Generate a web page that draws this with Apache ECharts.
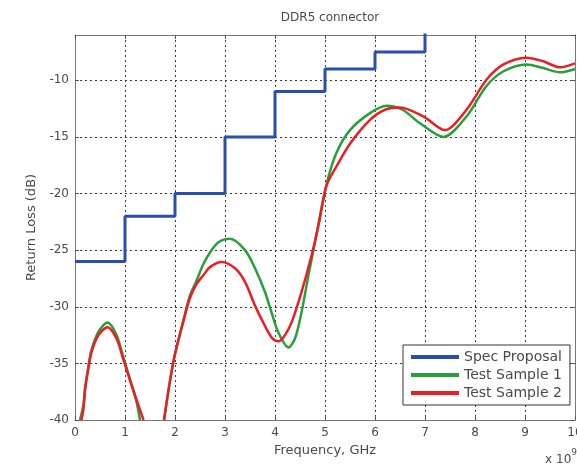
<!DOCTYPE html>
<html>
<head>
<meta charset="utf-8">
<title>DDR5 connector</title>
<script src="https://cdn.jsdelivr.net/npm/echarts@6/dist/echarts.min.js"></script>
<style>
  html, body { margin: 0; padding: 0; background: #ffffff; }
  #chart { width: 577px; height: 465px; }
</style>
</head>
<body>
<div id="chart"></div>
<script>
// Return loss of a DDR5 connector against the proposed spec limit.
// Frequencies are in units of 1e9 Hz (GHz), losses in dB.

const chartTitle = 'DDR5 connector';
const xAxisTitle = 'Frequency, GHz';
const yAxisTitle = 'Return Loss (dB)';
const seriesNames = ['Spec Proposal', 'Test Sample 1', 'Test Sample 2'];

// Spec limit: piecewise constant per 1 GHz band (step drawn at band edges)
const specFreq = [0, 1, 2, 3, 4, 5, 6, 7, 7];
const specLoss = [-26, -22, -20, -15, -11, -9, -7.5, -7.5, -4];

// Test sample 1 ('-' breaks the trace where it drops below the plotted range)
const sample1Freq = [0.10, 0.17, 0.20, 0.27, 0.33, 0.47, 0.65, 0.83, 0.97, 1.10, 1.23, 1.30,
  1.50,
  1.78, 1.97, 2.17, 2.30, 2.43, 2.57, 2.70, 2.87, 3.10, 3.40, 3.60, 3.80, 3.93, 4.07, 4.27, 4.40, 4.53, 4.67, 4.80,
  5.03, 5.23, 5.50, 5.90, 6.23, 6.55, 6.90, 7.37, 7.83, 8.23, 8.57, 9.03, 9.35, 9.70, 10.0];
const sample1Loss = [-40, -38.6, -37.2, -35.2, -33.8, -32.2, -31.4, -32.5, -34.5, -36.4, -38.4, -40,
  '-',
  -40, -34.8, -31.2, -29.0, -27.7, -26.2, -25.2, -24.3, -24.0, -25.0, -26.6, -28.7, -30.5, -32.3, -33.6, -32.8, -30.5, -27.2, -24.3,
  -19.2, -16.4, -14.4, -12.9, -12.25, -12.6, -13.8, -15.0, -13.2, -10.5, -9.2, -8.6, -8.9, -9.3, -9.0];

// Test sample 2
const sample2Freq = [0.13, 0.17, 0.20, 0.27, 0.33, 0.47, 0.65, 0.83, 0.97, 1.10, 1.23, 1.37,
  1.55,
  1.78, 1.97, 2.17, 2.30, 2.43, 2.57, 2.70, 2.93, 3.20, 3.40, 3.60, 3.80, 3.95, 4.08, 4.20, 4.33, 4.53, 4.73, 4.87,
  5.03, 5.23, 5.50, 5.90, 6.20, 6.50, 6.97, 7.40, 7.83, 8.23, 8.57, 9.03, 9.35, 9.70, 10.0];
const sample2Loss = [-40, -39.0, -37.4, -35.4, -34.0, -32.5, -31.8, -32.8, -34.7, -36.5, -38.2, -40,
  '-',
  -40, -34.8, -31.2, -29.2, -28.0, -27.2, -26.5, -26.05, -26.6, -27.8, -29.9, -31.7, -32.8, -33.05, -32.5, -31.4, -28.7, -25.5, -22.8,
  -19.3, -17.6, -15.6, -13.5, -12.6, -12.4, -13.2, -14.4, -12.6, -9.95, -8.6, -8.0, -8.3, -8.85, -8.5];

const xMin = 0, xMax = 10, xStep = 1;
const yMin = -40, yMax = -6, yStep = 5;

const colors = ['#2a4db0', '#27a03a', '#ee1c25'];
const textColor = '#4a4a4a';
const fontFamily = '"DejaVu Sans", "Liberation Sans", Arial, sans-serif';

const pairs = (xs, ys) => xs.map((x, i) => [x, ys[i]]);

const gridLine = { show: true, lineStyle: { color: '#3a3a3a', width: 1, type: [2, 3] } };
const boxLine = { show: true, onZero: false, lineStyle: { color: '#777777', width: 1 } };
const innerTick = { show: true, inside: true, length: 4, lineStyle: { color: '#555555' } };

const chart = echarts.init(document.getElementById('chart'), null, { renderer: 'canvas' });

chart.setOption({
  animation: false,
  backgroundColor: '#ffffff',
  textStyle: { fontFamily: fontFamily },
  title: {
    text: chartTitle,
    left: 325,
    top: 7,
    textAlign: 'center',
    textStyle: { fontSize: 12, fontWeight: 'normal', color: textColor, fontFamily: fontFamily }
  },
  grid: { left: 75, right: 2, top: 35, bottom: 45, containLabel: false, outerBoundsMode: 'none' },
  legend: {
    orient: 'vertical',
    left: 403,
    top: 345,
    data: seriesNames,
    icon: 'rect',
    itemWidth: 48,
    itemHeight: 4,
    itemGap: 4,
    itemStyle: { borderWidth: 0 },
    padding: [5, 8, 5, 8],
    backgroundColor: '#ffffff',
    borderColor: '#333333',
    borderWidth: 1,
    borderRadius: 0,
    textStyle: { fontSize: 14, color: textColor, fontFamily: fontFamily }
  },
  xAxis: [{
    type: 'value',
    min: xMin, max: xMax, interval: xStep,
    name: xAxisTitle,
    nameLocation: 'middle',
    nameGap: 24,
    nameTextStyle: { fontSize: 13, color: textColor },
    axisLine: boxLine,
    axisTick: innerTick,
    axisLabel: { fontSize: 12, color: textColor, margin: 7 },
    splitLine: gridLine
  }, {
    type: 'value', position: 'top',
    min: xMin, max: xMax, interval: xStep,
    axisLine: boxLine, axisTick: innerTick,
    axisLabel: { show: false }, splitLine: { show: false }
  }],
  yAxis: [{
    type: 'value',
    min: yMin, max: yMax, interval: yStep,
    name: yAxisTitle,
    nameLocation: 'middle',
    nameGap: 37,
    nameRotate: 90,
    nameTextStyle: { fontSize: 13, color: textColor },
    axisLine: boxLine,
    axisTick: innerTick,
    axisLabel: { fontSize: 12, color: textColor, margin: 6, showMaxLabel: false },
    splitLine: gridLine
  }, {
    type: 'value', position: 'right',
    min: yMin, max: yMax, interval: yStep,
    axisLine: boxLine, axisTick: innerTick,
    axisLabel: { show: false }, splitLine: { show: false }
  }],
  graphic: [{
    type: 'text',
    right: 0,
    top: 448,
    style: {
      text: '{b|x 10}{s|9}',
      rich: {
        b: { fontSize: 12, fill: textColor, fontFamily: fontFamily, padding: [6, 0, 0, 0] },
        s: { fontSize: 9, fill: textColor, fontFamily: fontFamily, verticalAlign: 'top', padding: [0, 0, 6, 0] }
      }
    }
  }],
  series: [{
    name: seriesNames[0],
    type: 'line',
    data: pairs(specFreq, specLoss),
    step: 'end',
    showSymbol: false,
    clip: true,
    color: colors[0],
    lineStyle: { width: 3, color: colors[0] },
    z: 3
  }, {
    name: seriesNames[1],
    type: 'line',
    data: pairs(sample1Freq, sample1Loss),
    smooth: 0.3,
    connectNulls: false,
    showSymbol: false,
    clip: true,
    color: colors[1],
    lineStyle: { width: 2.5, color: colors[1] },
    z: 4
  }, {
    name: seriesNames[2],
    type: 'line',
    data: pairs(sample2Freq, sample2Loss),
    smooth: 0.3,
    connectNulls: false,
    showSymbol: false,
    clip: true,
    color: colors[2],
    lineStyle: { width: 2.5, color: colors[2] },
    z: 5
  }]
});
</script>
</body>
</html>
